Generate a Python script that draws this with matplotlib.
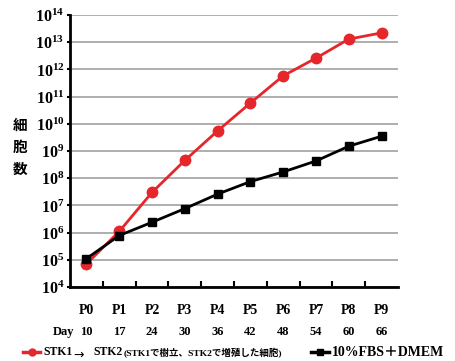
import matplotlib
matplotlib.use('Agg')
import matplotlib.pyplot as plt
from matplotlib.lines import Line2D
from matplotlib.ticker import FixedLocator, FuncFormatter, NullLocator
import numpy as np

plt.rcParams['mathtext.fontset'] = 'custom'
plt.rcParams['mathtext.rm'] = 'Liberation Serif:bold'
plt.rcParams['mathtext.bf'] = 'Liberation Serif:bold'
plt.rcParams['mathtext.it'] = 'Liberation Serif:bold'

passages = ['P0', 'P1', 'P2', 'P3', 'P4', 'P5', 'P6', 'P7', 'P8', 'P9']
days = ['10', '17', '24', '30', '36', '42', '48', '54', '60', '66']
stk = [7e4, 1.1e6, 3e7, 4.5e8, 5.5e9, 5.8e10, 5.8e11, 2.6e12, 1.3e13, 2.2e13]
fbs = [1.1e5, 7.8e5, 2.4e6, 7.6e6, 2.6e7, 7.5e7, 1.7e8, 4.3e8, 1.5e9, 3.5e9]

serif = ['Liberation Serif', 'Noto Sans CJK JP']
red = '#e5262b'

fig = plt.figure(figsize=(4.56, 3.61), dpi=100)
ax = fig.add_axes([70/456, 1-287/361, 328/456, 272/361])

x = np.arange(len(passages))
ax.plot(x, stk, '-o', color=red, lw=2, ms=7.5, zorder=3)
ax.plot(x, fbs, '-s', color='black', lw=2, ms=6, zorder=3)

ax.set_yscale('log')
ax.set_ylim(1e4, 1e14)
ax.set_xlim(-0.5, 9.5)
ax.yaxis.set_major_locator(FixedLocator([10.0**k for k in range(4, 15)]))
ax.yaxis.set_minor_locator(NullLocator())
ax.yaxis.set_major_formatter(FuncFormatter(lambda v, p: r'$\mathbf{10^{%d}}$' % round(np.log10(v))))
ax.grid(True, axis='y', color='#a8a8a8', lw=1.3)
ax.set_axisbelow(True)

ax.set_xticks(x)
ax.set_xticklabels(passages, family=serif, fontweight='bold', fontsize=10)
ax.set_xticks(x[:-1] + 0.5, minor=True)
ax.tick_params(axis='x', which='major', length=0, pad=12)
ax.tick_params(axis='x', which='minor', direction='in', length=4, width=1.5)
ax.tick_params(axis='y', length=2, width=1.5, labelsize=11.5, pad=2)

for s in ['top', 'right']:
    ax.spines[s].set_visible(False)
for s in ['left', 'bottom']:
    ax.spines[s].set_linewidth(2)

# Day row
trans = ax.get_xaxis_transform()
ax.text(-0.7, -0.165, 'Day', transform=trans, ha='center', va='center',
        family=serif, fontweight='bold', fontsize=9)
for i, d in enumerate(days):
    ax.text(i, -0.165, d, transform=trans, ha='center', va='center',
            family=serif, fontweight='bold', fontsize=9)

# y label
fig.text(20/456, 1-147/361, '細\n胞\n数', ha='center', va='center',
         family=['Noto Sans CJK JP'], fontweight='bold', fontsize=10.5, linespacing=1.45)

# legend
ly = 1 - 352/361
fig.add_artist(Line2D([23/456, 40/456], [ly, ly], color=red, lw=2.5))
fig.add_artist(Line2D([32/456], [ly], marker='o', color=red, ms=5))
fig.text(43/456, ly, 'STK1', ha='left', va='center', family=serif,
         fontweight='bold', fontsize=8.5)
fig.text(73/456, ly - 0.008, '→', ha='left', va='center',
         family=['DejaVu Sans'], fontsize=9)
fig.text(93/456, ly, 'STK2', ha='left', va='center', family=serif,
         fontweight='bold', fontsize=8.5)
fig.text(124/456, ly - 0.002, '(STK1で樹立、STK2で増殖した細胞)', ha='left', va='center',
         family=serif, fontweight='bold', fontsize=6.8)
fig.add_artist(Line2D([311/456, 329/456], [ly, ly], color='black', lw=2.5))
fig.add_artist(Line2D([320/456], [ly], marker='s', color='black', ms=5))
fig.text(332/456, ly, '10%FBS＋DMEM', ha='left', va='center',
         family=serif, fontweight='bold', fontsize=10)

fig.savefig('out.png', dpi=100)
